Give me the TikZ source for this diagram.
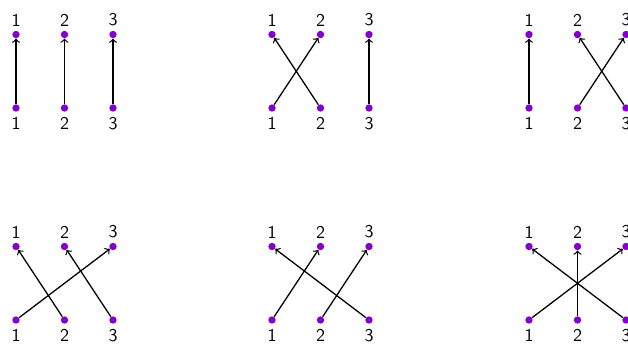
\documentclass[tikz,border=0pt]{standalone}
\definecolor{dotviolet}{RGB}{132,0,204}
\tikzset{
  dot/.style={circle,fill=dotviolet,inner sep=0pt,minimum size=4.3pt},
  lab/.style={inner sep=0pt,font=\sffamily\fontsize{10.5}{12}\selectfont},
  arr/.style={->,line width=0.75pt},
}
\newcommand\mypanel[4]{%
  \foreach \i in {1,2,3} {
    \pgfmathsetmacro\xx{#2+16+48.5*(\i-1)}
    \pgfmathsetmacro\yt{#3+34.5}
    \pgfmathsetmacro\yb{#3+108}
    \node[dot] (#1t\i) at (\xx,\yt) {};
    \node[dot] (#1b\i) at (\xx,\yb) {};
    \node[lab] (#1lt\i) at (\xx,\yt-14.5) {\i};
    \node[lab] (#1lb\i) at (\xx,\yb+15.5) {\i};
  }
  \foreach \a/\b in {#4} { \draw[arr] (#1b\a) -- (#1t\b); }
}
\begin{document}
\begin{tikzpicture}[x=0.584pt,y=-0.584pt]
\useasboundingbox (0,0) rectangle (628,345);
\mypanel{A}{0}{0}{1/1,2/2,3/3}
\mypanel{B}{256}{0}{1/2,2/1,3/3}
\mypanel{C}{513}{0}{1/1,2/3,3/2}
\mypanel{D}{0}{212}{1/3,2/1,3/2}
\mypanel{E}{256}{212}{1/2,2/3,3/1}
\mypanel{F}{513}{212}{1/3,2/2,3/1}
\end{tikzpicture}
\end{document}
